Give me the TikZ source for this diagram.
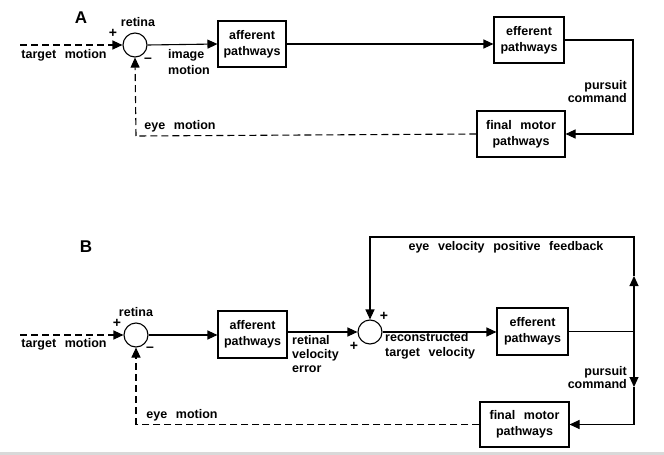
\documentclass[tikz,border=0pt]{standalone}
\usepackage{fontspec}
\setmainfont{Liberation Sans}[WordSpace=2.5]
\usetikzlibrary{arrows.meta}
\begin{document}
\begin{tikzpicture}[x=1pt,y=-1pt,
  font=\bfseries\fontsize{12.5}{16}\selectfont,
  blk/.style={draw, line width=1.1pt, align=center, inner sep=0pt},
  sumc/.style={draw, circle, minimum size=24pt, inner sep=0pt, line width=1.1pt},
  conn/.style={line width=1.1pt},
  arr/.style={conn, -{Triangle[length=10pt,width=9pt]}},
  dconn/.style={conn, dash pattern=on 7pt off 4pt},
  darr/.style={dconn, -{Triangle[length=10pt,width=9pt]}},
  lab/.style={inner sep=0pt},
  sgn/.style={inner sep=0pt, font=\bfseries\fontsize{14}{14}\selectfont},
  ttl/.style={inner sep=0pt, font=\bfseries\fontsize{17}{17}\selectfont}]
\useasboundingbox (0,0) rectangle (664,455);
\fill[black!15] (0,452) rectangle (664,455);

% ---------------- Panel A ----------------
\node[ttl] (tA) at (81,18) {A};
\node[sumc] (cA) at (135,45) {};
\node[lab] (retA) at (138,22) {retina};
\node[sgn] (pA) at (113,33) {+};
\node[sgn] (mA) at (148,60) {\textendash};
\coordinate (inA) at (20,45);
\node[lab] (tmA) at (64,55) {target motion};
\node[blk, minimum width=68pt, minimum height=46pt] (afA) at (252,44) {afferent\\pathways};
\node[lab, align=left, anchor=west, font=\bfseries\fontsize{12.5}{16}\selectfont] (imA) at (168,62) {image\\motion};
\node[blk, minimum width=70pt, minimum height=46pt] (efA) at (529,40) {efferent\\pathways};
\node[blk, minimum width=88pt, minimum height=46pt] (fmA) at (521,134) {final motor\\pathways};
\node[lab, align=right, anchor=east, font=\bfseries\fontsize{12.5}{13}\selectfont] (pcA) at (627,91.5) {pursuit\\command};
\node[lab] (emA) at (180,126) {eye motion};
\coordinate (rA) at (633,40);
\coordinate (dA) at (136,136);

\draw[darr] (inA) -- (cA.west);
\draw[arr] (cA.east) -- (afA.west);
\draw[arr] (afA.east) -- (afA.east -| efA.west);
\draw[arr] (efA.east) -- (rA) |- (fmA.east);
\draw[dconn] (fmA.west) -- (dA);
\draw[darr] (dA) -- (cA.south);

% ---------------- Panel B ----------------
\node[ttl] (tB) at (86,247) {B};
\node[sumc] (cB) at (136,335) {};
\node[lab] (retB) at (136,312) {retina};
\node[sgn] (pB) at (117,323) {+};
\node[sgn] (mB) at (150,349) {\textendash};
\coordinate (inB) at (20,335);
\node[lab] (tmB) at (64,344) {target motion};
\node[blk, minimum width=69pt, minimum height=47pt] (afB) at (252.5,334.5) {afferent\\pathways};
\node[lab, align=left, anchor=west, font=\bfseries\fontsize{12.5}{14}\selectfont] (rvB) at (292,354) {retinal\\velocity\\error};
\node[sumc] (c2B) at (370,332) {};
\node[sgn] (p2B) at (384,316) {+};
\node[sgn] (p3B) at (354,346) {+};
\node[lab, align=left, anchor=west, font=\bfseries\fontsize{12.5}{15}\selectfont] (rtB) at (385,345.5) {reconstructed\\target velocity};
\node[blk, minimum width=71pt, minimum height=47pt] (efB) at (532.5,331.5) {efferent\\pathways};
\node[blk, minimum width=89pt, minimum height=45pt] (fmB) at (524.5,424.5) {final motor\\pathways};
\node[lab] (fbB) at (506,247) {eye velocity positive feedback};
\node[lab, align=right, anchor=east, font=\bfseries\fontsize{12.5}{13}\selectfont] (pcB) at (627,377.5) {pursuit\\command};
\node[lab] (emB) at (182,415) {eye motion};
\coordinate (jB) at (634,331.5);
\coordinate (upB) at (634,276);
\coordinate (topB) at (634,237);
\coordinate (dnB) at (634,387);
\coordinate (botB) at (634,424.5);
\coordinate (dB) at (136,424.5);

\draw[darr] (inB) -- (cB.west);
\draw[arr] (cB.east) -- (cB.east -| afB.west);
\draw[arr] (afB.east |- c2B.west) -- (c2B.west);
\draw[arr] (c2B.east) -- (c2B.east -| efB.west);
\draw[conn] (efB.east) -- (jB);
\draw[arr] (jB) -- (upB);
\draw[arr] (upB) -- (topB) -| (c2B.north);
\draw[arr] (jB) -- (dnB);
\draw[arr] (dnB) -- (botB) -- (fmB.east);
\draw[dconn] (fmB.west) -- (dB);
\draw[darr] (dB) -- (cB.south);
\end{tikzpicture}
\end{document}
